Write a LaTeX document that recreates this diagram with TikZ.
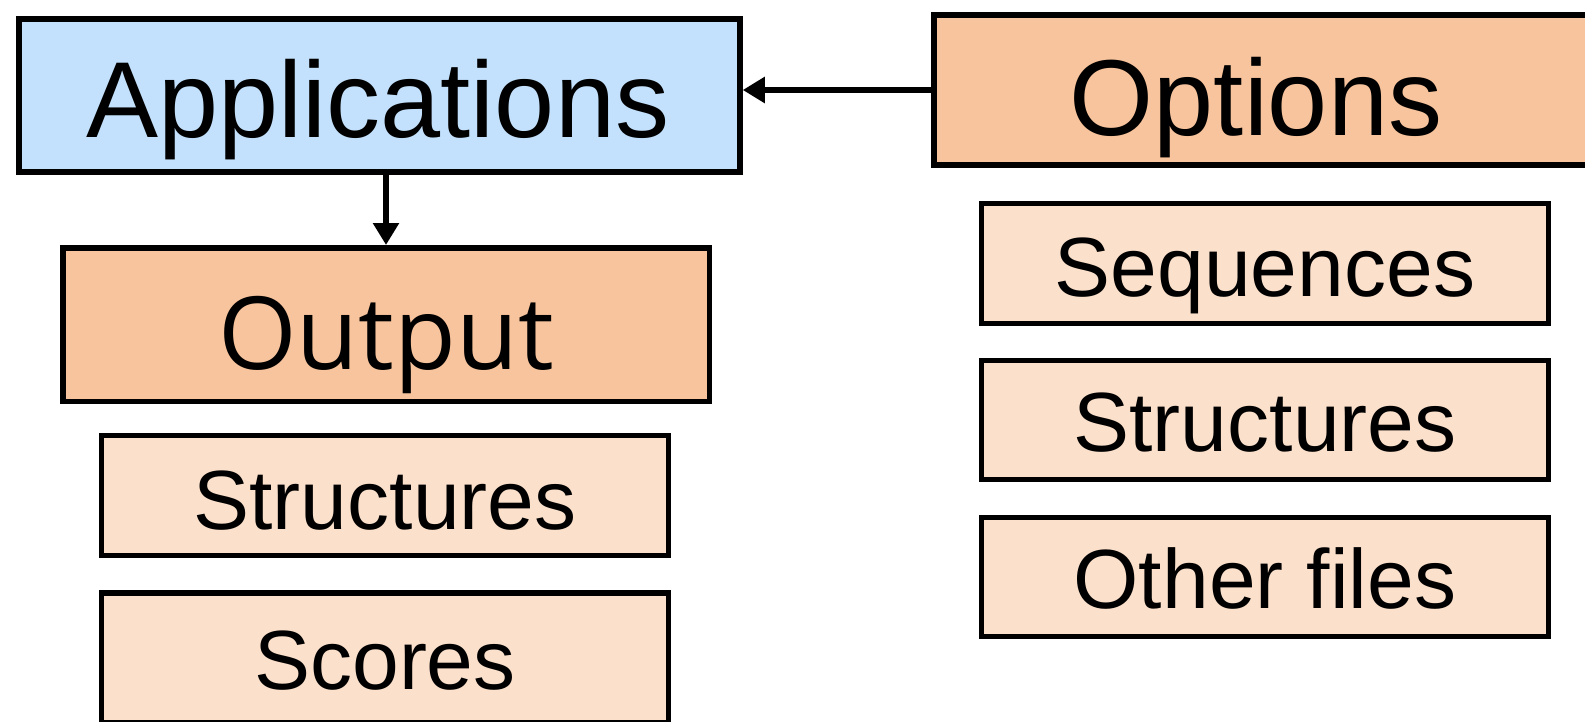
\documentclass[tikz,border=0pt]{standalone}
\usepackage{fontspec}
\setmainfont{Liberation Sans}
\newfontfamily\outfont{Open Sans}
\usetikzlibrary{arrows.meta}
\definecolor{appblue}{HTML}{C3E1FC}
\definecolor{hdrorange}{HTML}{F8C49D}
\definecolor{itempeach}{HTML}{FBE0CB}
\tikzset{
  box/.style={draw=black, line width=5.5pt, inner sep=0pt, anchor=center},
  bigtext/.style={inner sep=0pt, anchor=base, font=\fontsize{108}{120}\selectfont},
  smalltext/.style={inner sep=0pt, anchor=base, font=\fontsize{84}{96}\selectfont},
  conn/.style={line width=5.5pt, -{Triangle[length=22pt,width=25pt]}}
}
\begin{document}
\begin{tikzpicture}[x=1pt,y=-1pt]
\useasboundingbox (0,0) rectangle (1585,721);
\clip (0,0) rectangle (1585,721);
% boxes
\node[box, fill=appblue, minimum width=721pt, minimum height=153pt] (app) at (379.5,95.5) {};
\node[box, fill=hdrorange, minimum width=654pt, minimum height=150pt] (opt) at (1261,90) {};
\node[box, fill=hdrorange, minimum width=646.5pt, minimum height=153.5pt] (out) at (386,324.5) {};
\node[box, fill=itempeach, minimum width=567pt, minimum height=120pt] (seq) at (1265,263.5) {};
\node[box, fill=itempeach, minimum width=567pt, minimum height=119pt] (strr) at (1265,420) {};
\node[box, fill=itempeach, minimum width=567pt, minimum height=119pt] (oth) at (1265,577) {};
\node[box, fill=itempeach, minimum width=567pt, minimum height=120pt] (strl) at (385,495.5) {};
\node[box, fill=itempeach, minimum width=567pt, minimum height=130pt] (sco) at (385,658) {};
% texts
\node[bigtext] (tapp) at (378,137) {Applications};
\node[bigtext] (topt) at (1256,135) {Options};
\node[bigtext, font=\outfont\fontsize{101}{120}\selectfont] (tout) at (386,369) {Output};
\node[smalltext] (tseq) at (1265,296) {Sequences};
\node[smalltext] (tstrr) at (1265,451) {Structures};
\node[smalltext] (toth) at (1265,608) {Other files};
\node[smalltext] (tstrl) at (385,529) {Structures};
\node[smalltext] (tsco) at (385,689) {Scores};
% connectors
\draw[conn] (opt.west |- 0,90) -- (app.east |- 0,90);
\draw[conn] (app.south -| 386,0) -- (out.north -| 386,0);
\end{tikzpicture}
\end{document}
